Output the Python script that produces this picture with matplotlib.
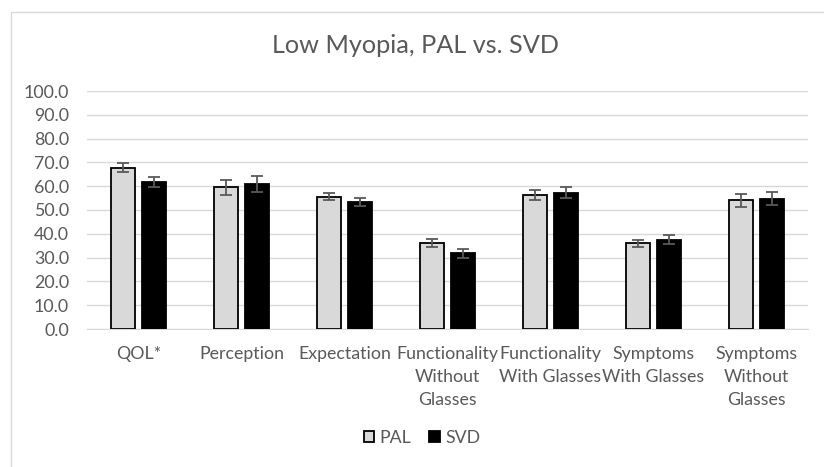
import numpy as np
import matplotlib.pyplot as plt
from matplotlib.patches import Rectangle

plt.rcParams['font.family'] = ['Lato', 'DejaVu Sans']

categories = ["QOL*", "Perception", "Expectation", "Functionality\nWithout\nGlasses",
              "Functionality\nWith Glasses", "Symptoms\nWith Glasses", "Symptoms\nWithout\nGlasses"]
pal = [67.8, 59.5, 55.5, 36.2, 56.5, 36.0, 54.0]
pal_err = [1.9, 3.1, 1.5, 1.8, 2.1, 1.5, 2.6]
svd = [61.8, 60.9, 53.4, 31.8, 57.3, 37.6, 54.8]
svd_err = [2.2, 3.4, 1.6, 2.0, 2.3, 1.9, 2.8]

grey_text = "#595959"
grid_col = "#D9D9D9"

fig = plt.figure(figsize=(8.24, 4.67), dpi=100)
ax = fig.add_axes([87 / 824, 138 / 467, 721 / 824, 238 / 467])

x = np.arange(len(categories))
w = 0.233
off = 0.146
ekw = dict(ecolor="#595959", elinewidth=1.3, capsize=4, capthick=1.3)
ax.bar(x - off, pal, w, yerr=pal_err, color="#D9D9D9", edgecolor="black",
       linewidth=1.3, error_kw=ekw, label="PAL", zorder=3)
ax.bar(x + off, svd, w, yerr=svd_err, color="black", edgecolor="black",
       linewidth=1.3, error_kw=ekw, label="SVD", zorder=3)

ax.set_xlim(-0.5, len(categories) - 0.5)
ax.set_ylim(0, 100)
ax.set_yticks(np.arange(0, 101, 10))
ax.set_yticklabels([f"{v:.1f}" for v in np.arange(0, 101, 10)])
ax.set_xticks(x)
ax.set_xticklabels(categories, linespacing=1.52)
ax.tick_params(axis='both', length=0, labelsize=12.8, labelcolor=grey_text)
ax.tick_params(axis='y', pad=13)
ax.tick_params(axis='x', pad=12.5)
ax.yaxis.grid(True, color=grid_col, linewidth=1, zorder=0)
for s in ["top", "right", "left"]:
    ax.spines[s].set_visible(False)
ax.spines["bottom"].set_color(grid_col)
ax.spines["bottom"].set_zorder(1)

fig.text(0.504, 1 - 45 / 467, "Low Myopia, PAL vs. SVD", ha="center", va="center",
         fontsize=18.2, color=grey_text)

fig.legend(loc="center", bbox_to_anchor=(422 / 824, 1 - 438 / 467), ncol=2,
           frameon=False, fontsize=12.8, labelcolor=grey_text, handlelength=0.6,
           handleheight=0.6, handletextpad=0.3, columnspacing=1.0)

fig.patches.append(Rectangle((11 / 824, -0.1), 1.1, 1 - 12 / 467 + 0.1,
                             transform=fig.transFigure, fill=False,
                             edgecolor=grid_col, linewidth=1))

fig.savefig("out.png", dpi=100)
